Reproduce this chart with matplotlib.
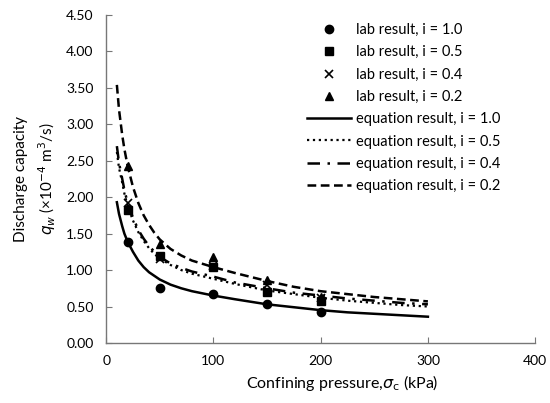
import numpy as np
import matplotlib.pyplot as plt

plt.rcParams['font.family'] = ['Lato', 'DejaVu Sans']
plt.rcParams['mathtext.fontset'] = 'dejavusans'

# lab results (confining pressure in kPa, q_w in 1e-4 m3/s)
lab_x = [20, 50, 100, 150, 200]
lab_i10 = [1.39, 0.76, 0.67, 0.53, 0.42]
lab_i05 = [1.83, 1.19, 1.04, 0.70, 0.58]
lab_i04 = [1.92, 1.15, 1.05, 0.80, 0.61]
lab_i02 = [2.43, 1.36, 1.18, 0.86, 0.63]

# equation results
eq_x = [10, 12, 15, 17, 20, 25, 30, 35, 40, 45, 50, 60, 70, 80, 100, 120,
        150, 175, 200, 225, 250, 275, 300]
eq_i10 = [1.93, 1.77, 1.60, 1.50, 1.39, 1.25, 1.13, 1.04, 0.97, 0.92, 0.87, 0.80,
          0.75, 0.71, 0.65, 0.60, 0.53, 0.49, 0.45, 0.42, 0.40, 0.38, 0.36]
eq_i05 = [2.62, 2.40, 2.20, 2.05, 1.88, 1.68, 1.52, 1.40, 1.30, 1.22, 1.16, 1.07,
          1.00, 0.95, 0.88, 0.81, 0.72, 0.67, 0.62, 0.58, 0.55, 0.52, 0.50]
eq_i04 = [2.70, 2.47, 2.25, 2.10, 1.92, 1.72, 1.55, 1.43, 1.33, 1.25, 1.18, 1.09,
          1.03, 0.98, 0.91, 0.83, 0.75, 0.69, 0.65, 0.61, 0.58, 0.55, 0.53]
eq_i02 = [3.54, 3.20, 2.85, 2.66, 2.43, 2.14, 1.92, 1.75, 1.62, 1.51, 1.42, 1.29,
          1.20, 1.13, 1.04, 0.96, 0.85, 0.77, 0.71, 0.67, 0.63, 0.60, 0.57]

fig = plt.figure(figsize=(5.5, 4.03), dpi=100)
ax = fig.add_axes([0.193, 0.149, 0.78, 0.814])

ax.plot(lab_x, lab_i10, 'o', color='black', ms=6, label='lab result, i = 1.0')
ax.plot(lab_x, lab_i05, 's', color='black', ms=6, label='lab result, i = 0.5')
ax.plot(lab_x, lab_i04, 'x', color='black', ms=6, mew=1.2, label='lab result, i = 0.4')
ax.plot(lab_x, lab_i02, '^', color='black', ms=6, label='lab result, i = 0.2')

ax.plot(eq_x, eq_i10, '-', color='black', lw=1.8, label='equation result, i = 1.0')
ax.plot(eq_x, eq_i05, ':', color='black', lw=1.6, label='equation result, i = 0.5')
ax.plot(eq_x, eq_i04, color='black', lw=1.8, dashes=(5, 3, 1, 3), label='equation result, i = 0.4')
ax.plot(eq_x, eq_i02, '--', color='black', lw=1.8, dashes=(3.5, 1.8), label='equation result, i = 0.2')

ax.set_xlim(0, 400)
ax.set_ylim(0, 4.5)
ax.set_xticks([0, 100, 200, 300, 400])
ax.set_yticks(np.arange(0, 4.51, 0.5))
ax.set_yticklabels([f'{v:.2f}' for v in np.arange(0, 4.51, 0.5)])
ax.tick_params(direction='in', length=4, width=0.8, color='#777777', labelsize=10, pad=9)
for s in ['top', 'right']:
    ax.spines[s].set_visible(False)
for s in ['left', 'bottom']:
    ax.spines[s].set_color('#777777')
    ax.spines[s].set_linewidth(1.0)

ax.set_xlabel(r'Confining pressure,$\sigma_\mathrm{c}$ (kPa)', fontsize=11.5, labelpad=4)
ax.xaxis.label.set_x(0.55)
ax.set_ylabel('Discharge capacity\n' + r'$q_w$ (×10$^{-4}$ m$^3$/s)', fontsize=11,
              labelpad=6, linespacing=1.5)

ax.legend(loc='upper left', bbox_to_anchor=(307 / 550, 1 - 23 / 403),
          bbox_transform=fig.transFigure, frameon=False, fontsize=10.5,
          borderpad=0, borderaxespad=0,
          handlelength=3.0, labelspacing=0.57, handletextpad=0.35)

fig.savefig('out.png', dpi=100)
